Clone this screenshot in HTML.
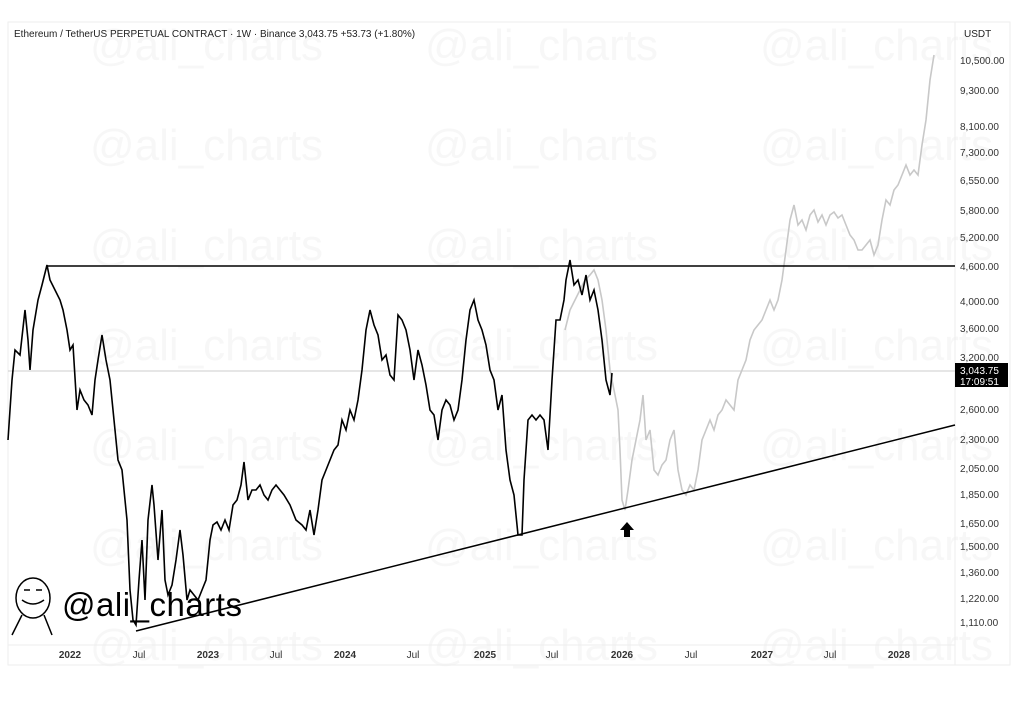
<!DOCTYPE html><html><head><style>
body{margin:0;width:1024px;height:711px;background:#fff;overflow:hidden;font-family:"Liberation Sans",sans-serif}
</style></head><body>
<svg width="1024" height="711" xmlns="http://www.w3.org/2000/svg" font-family="Liberation Sans, sans-serif">
<g fill="#f7f7f7" font-size="44">
<text x="90" y="60">@ali_charts</text><text x="425" y="60">@ali_charts</text><text x="760" y="60">@ali_charts</text>
<text x="90" y="160">@ali_charts</text><text x="425" y="160">@ali_charts</text><text x="760" y="160">@ali_charts</text>
<text x="90" y="260">@ali_charts</text><text x="425" y="260">@ali_charts</text><text x="760" y="260">@ali_charts</text>
<text x="90" y="360">@ali_charts</text><text x="425" y="360">@ali_charts</text><text x="760" y="360">@ali_charts</text>
<text x="90" y="460">@ali_charts</text><text x="425" y="460">@ali_charts</text><text x="760" y="460">@ali_charts</text>
<text x="90" y="560">@ali_charts</text><text x="425" y="560">@ali_charts</text><text x="760" y="560">@ali_charts</text>
<text x="90" y="660">@ali_charts</text><text x="425" y="660">@ali_charts</text><text x="760" y="660">@ali_charts</text>
</g>
<rect x="8" y="22" width="1002" height="643" fill="none" stroke="#eee"/>
<line x1="8" y1="645" x2="955" y2="645" stroke="#eee"/>
<line x1="955" y1="22" x2="955" y2="665" stroke="#eee"/>
<text x="14" y="37" font-size="10" fill="#222">Ethereum / TetherUS PERPETUAL CONTRACT · 1W · Binance  3,043.75  +53.73 (+1.80%)</text>
<text x="964" y="37" font-size="10" fill="#222">USDT</text>
<g font-size="10" fill="#333">
<text x="960" y="64">10,500.00</text><text x="960" y="94">9,300.00</text><text x="960" y="130">8,100.00</text><text x="960" y="156">7,300.00</text><text x="960" y="184">6,550.00</text><text x="960" y="214">5,800.00</text><text x="960" y="241">5,200.00</text><text x="960" y="270">4,600.00</text><text x="960" y="305">4,000.00</text><text x="960" y="332">3,600.00</text><text x="960" y="361">3,200.00</text><text x="960" y="413">2,600.00</text><text x="960" y="443">2,300.00</text><text x="960" y="472">2,050.00</text><text x="960" y="498">1,850.00</text><text x="960" y="527">1,650.00</text><text x="960" y="550">1,500.00</text><text x="960" y="576">1,360.00</text><text x="960" y="602">1,220.00</text><text x="960" y="626">1,110.00</text>
</g>
<rect x="955" y="363" width="53" height="24" fill="#000"/>
<text x="960" y="374" font-size="10" fill="#fff">3,043.75</text>
<text x="960" y="385" font-size="10" fill="#fff">17:09:51</text>
<g font-size="10" fill="#333" text-anchor="middle">
<text x="70" y="658" font-weight="bold">2022</text><text x="139" y="658">Jul</text><text x="208" y="658" font-weight="bold">2023</text><text x="276" y="658">Jul</text><text x="345" y="658" font-weight="bold">2024</text><text x="413" y="658">Jul</text><text x="485" y="658" font-weight="bold">2025</text><text x="552" y="658">Jul</text><text x="622" y="658" font-weight="bold">2026</text><text x="691" y="658">Jul</text><text x="762" y="658" font-weight="bold">2027</text><text x="830" y="658">Jul</text><text x="899" y="658" font-weight="bold">2028</text>
</g>
<line x1="8" y1="371" x2="955" y2="371" stroke="#ccc"/>
<polyline fill="none" stroke="#c8c8c8" stroke-width="1.6" points="565,330 570,310 575,300 580,290 585,280 590,275 594,270 598,280 602,300 606,330 610,370 614,390 618,410 620,450 622,500 625,510 628,490 632,460 636,440 640,420 643,395 646,440 650,430 654,470 658,475 662,465 666,460 670,440 674,430 678,470 682,490 686,495 690,485 694,490 698,470 702,440 706,430 710,420 714,430 718,415 722,410 726,400 730,405 734,410 738,380 742,370 746,360 750,340 754,330 758,325 762,320 766,310 770,300 774,310 778,300 782,280 786,250 790,220 794,205 798,225 802,220 806,230 810,215 814,210 818,222 822,215 826,225 830,215 834,212 838,218 842,215 846,225 850,235 854,240 858,250 862,250 866,245 870,240 874,255 878,245 882,220 886,200 890,205 894,190 898,185 902,175 906,165 910,175 914,170 918,175 922,145 926,120 930,80 934,55"/>
<line x1="47" y1="266" x2="955" y2="266" stroke="#000" stroke-width="1.5"/>
<line x1="136" y1="631" x2="955" y2="425" stroke="#000" stroke-width="1.5"/>
<polyline fill="none" stroke="#000" stroke-width="1.6" points="8,440 12,380 15,350 20,355 25,310 28,340 30,370 33,330 38,300 42,285 47,265 50,280 55,290 60,300 63,310 67,330 70,350 73,345 77,410 80,390 84,400 88,405 92,415 95,380 98,360 102,335 106,360 110,380 114,420 118,460 122,470 127,520 130,590 133,620 136,625 139,580 142,540 145,600 148,520 152,485 154,505 158,560 162,510 165,580 168,595 172,585 176,560 180,530 183,555 187,600 190,590 194,595 198,600 202,590 206,580 210,540 213,525 217,522 221,530 225,520 229,530 233,505 237,500 241,485 244,462 248,500 252,490 256,490 260,485 264,495 268,500 272,490 276,485 280,490 284,495 290,505 296,520 302,525 306,530 310,510 314,535 318,510 322,480 326,470 330,460 334,450 338,445 342,420 346,430 350,410 354,420 358,400 362,370 366,330 370,310 374,325 378,335 382,360 386,355 390,375 394,380 398,315 402,320 406,330 410,350 414,380 418,350 422,365 426,385 430,410 434,415 438,440 442,410 446,400 450,405 454,420 458,410 462,380 466,340 470,310 474,300 478,320 482,330 486,345 490,370 494,380 498,410 502,395 506,450 510,480 514,495 518,535 522,535 524,480 528,420 532,415 536,420 540,415 544,420 548,450 552,380 556,320 560,320 564,300 566,280 570,260 574,285 578,280 582,295 586,275 590,300 594,290 598,310 602,340 606,380 610,395 612,373"/>
<polygon points="627,522 620,530 624,530 624,537 630,537 630,530 634,530" fill="#000"/>
<g fill="none" stroke="#000" stroke-width="1.5">
<ellipse cx="33" cy="598" rx="17" ry="20"/>
<path d="M22 600 q11 8 22 0"/><path d="M24 590 h6 M36 590 h6"/>
<path d="M22 615 l-10 20 M44 615 l8 20"/>
</g>
<text x="62" y="616" font-size="33" fill="#000" textLength="180">@ali_charts</text>
</svg>
</body></html>
